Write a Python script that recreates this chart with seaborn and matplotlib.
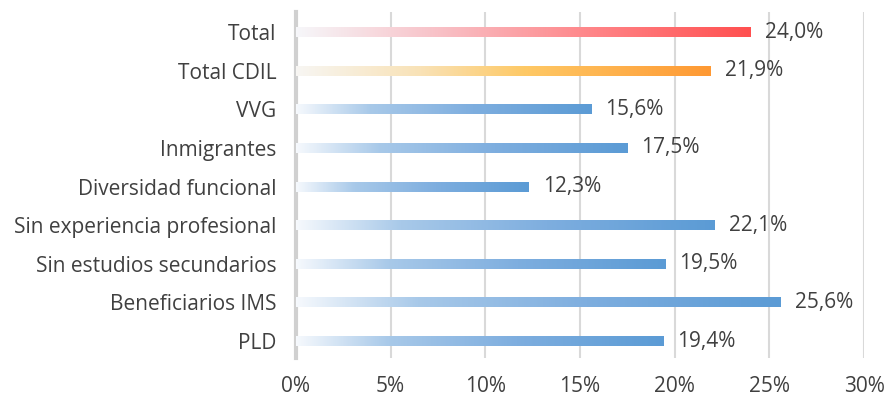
import numpy as np
import pandas as pd
import matplotlib
matplotlib.use("Agg")
import matplotlib.pyplot as plt
from matplotlib.colors import LinearSegmentedColormap
from matplotlib.ticker import FuncFormatter
import seaborn as sns

categories = ["Total", "Total CDIL", "VVG", "Inmigrantes", "Diversidad funcional",
              "Sin experiencia profesional", "Sin estudios secundarios",
              "Beneficiarios IMS", "PLD"]
values = [24.0, 21.9, 15.6, 17.5, 12.3, 22.1, 19.5, 25.6, 19.4]
groups = ["total", "cdil", "grupo", "grupo", "grupo", "grupo", "grupo", "grupo", "grupo"]
xticks = [0, 5, 10, 15, 20, 25, 30]

sns.set_theme(style="white")
plt.rcParams["font.family"] = ["Open Sans", "DejaVu Sans"]

df = pd.DataFrame({"categoria": categories, "valor": values, "grupo": groups})

gradients = {
    "total": LinearSegmentedColormap.from_list(
        "g_total", [(0, "#F6F7FA"), (0.3, "#F8C3C9"), (0.65, "#FF8588"), (1, "#FF5050")]),
    "cdil": LinearSegmentedColormap.from_list(
        "g_cdil", [(0, "#F7F6F3"), (0.3, "#F9E2B6"), (0.55, "#FEC966"), (1, "#FF9933")]),
    "grupo": LinearSegmentedColormap.from_list(
        "g_grupo", [(0, "#F6F9FD"), (0.25, "#A8C9E9"), (0.6, "#7EAEDF"), (1, "#5B9BD5")]),
}

fig = plt.figure(figsize=(8.88, 3.98), dpi=100)
ax = fig.add_axes([296 / 888, 40 / 398, 568 / 888, 346 / 398])

sns.barplot(data=df, y="categoria", x="valor", orient="h", width=0.26,
            color="#5B9BD5", ax=ax, zorder=3)

grad = np.linspace(0, 1, 256).reshape(1, -1)
for patch, v, g in zip(ax.patches, values, groups):
    x0, y0 = patch.get_x(), patch.get_y()
    w, h = patch.get_width(), patch.get_height()
    im = ax.imshow(grad, cmap=gradients[g], aspect="auto",
                   extent=(x0, x0 + w, y0 + h, y0), zorder=3, interpolation="bilinear")
    im.set_clip_path(patch)
    patch.set_facecolor("none")
    patch.set_edgecolor("none")
    ax.text(v + 0.75, y0 + h / 2, f"{v:.1f}%".replace(".", ","), va="center", ha="left",
            fontsize=15, color="#404040", zorder=4)

ax.set_xlim(0, 30)
ax.set_ylim(8.44, -0.52)
ax.set_xticks(xticks)
ax.xaxis.set_major_formatter(FuncFormatter(lambda x, _: f"{x:.0f}%"))
ax.grid(axis="x", color="#D9D9D9", linewidth=1.5, zorder=0)
ax.set_axisbelow(True)
for s in ["top", "right", "bottom"]:
    ax.spines[s].set_visible(False)
ax.spines["left"].set_color("#D0D0D0")
ax.spines["left"].set_linewidth(3)
ax.set_xlabel("")
ax.set_ylabel("")
ax.tick_params(axis="x", labelsize=15, labelcolor="#404040", length=0, pad=13)
ax.tick_params(axis="y", labelsize=15, labelcolor="#404040", length=0, pad=14)

fig.savefig("out.png", dpi=100, facecolor="white")
